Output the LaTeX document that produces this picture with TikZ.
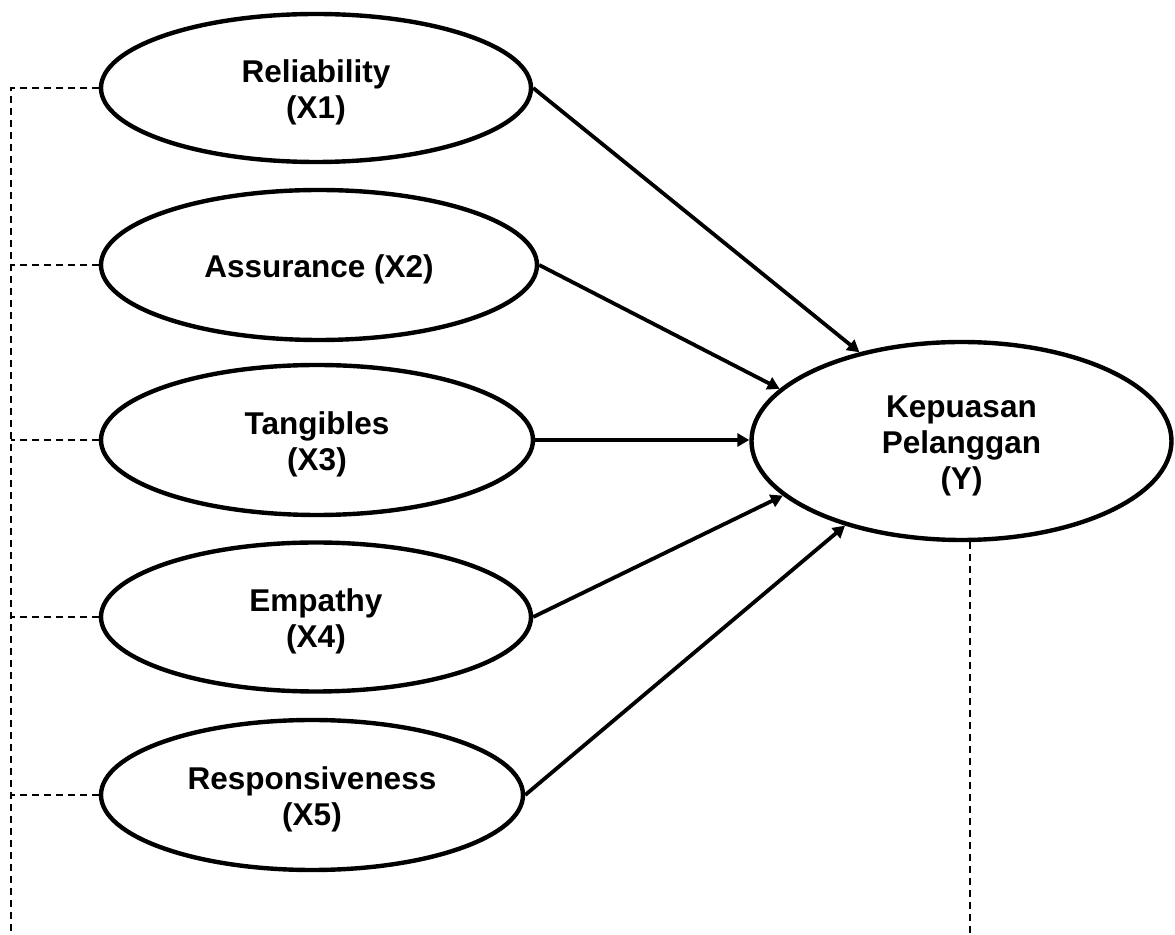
\documentclass[tikz,border=0pt]{standalone}
\usepackage{fontspec}
\setmainfont{Liberation Sans}
\usetikzlibrary{arrows.meta,shapes.geometric}
\newcommand\lowtext{\rule{0pt}{15.5pt}}
\begin{document}
\begin{tikzpicture}[x=0.5pt,y=-0.5pt,
  latent/.style={draw, ellipse, line width=2.2pt, inner sep=0pt, align=center,
    font=\bfseries\fontsize{15.75}{18}\selectfont},
  causal/.style={line width=1.9pt, -{Triangle[length=6pt,width=6.5pt]}},
  link/.style={line width=0.85pt, dash pattern=on 3.5pt off 2.5pt}]
\useasboundingbox (0,0) rectangle (1175,935);

\node[latent, minimum width=215pt, minimum height=74pt] (x1) at (316,88) {\lowtext Reliability\\(X1)};
\node[latent, minimum width=218pt, minimum height=75pt] (x2) at (319,265) {\lowtext Assurance (X2)};
\node[latent, minimum width=216pt, minimum height=75pt] (x3) at (317,440) {\lowtext Tangibles\\(X3)};
\node[latent, minimum width=215pt, minimum height=74.5pt] (x4) at (316,617) {\lowtext Empathy\\(X4)};
\node[latent, minimum width=211pt, minimum height=75pt] (x5) at (312,795) {\lowtext Responsiveness\\(X5)};
\node[latent, minimum width=210pt, minimum height=99pt] (y) at (961.5,441) {\lowtext Kepuasan\\Pelanggan\\(Y)};

\coordinate (lb) at (11,935);
\coordinate (rb) at (971,935);

\draw[causal] (x1.east) -- (y.139);
\draw[causal] (x2.east) -- (y.164.7);
\draw[causal] (x3.east) -- (x3.east -| y.west);
\draw[causal] (x4.east) -- (y.197.3);
\draw[causal] (x5.east) -- (y.216.9);

\draw[link] (x1.west) -- (x1.west -| lb) -- (lb);
\draw[link] (x2.west) -- (x2.west -| lb);
\draw[link] (x3.west) -- (x3.west -| lb);
\draw[link] (x4.west) -- (x4.west -| lb);
\draw[link] (x5.west) -- (x5.west -| lb);
\draw[link] (y.275) -- (y.275 |- rb);
\end{tikzpicture}
\end{document}
